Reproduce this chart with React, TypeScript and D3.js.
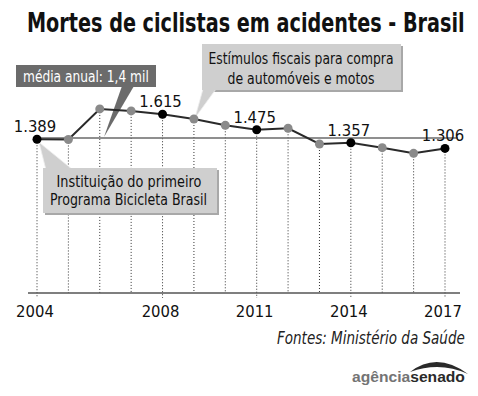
import React, { useLayoutEffect, useRef, useState } from 'react';
import * as d3 from 'd3';

const years = [2004, 2005, 2006, 2007, 2008, 2009, 2010, 2011, 2012, 2013, 2014, 2015, 2016, 2017];
const deaths = [1389, 1387, 1663, 1645, 1615, 1572, 1515, 1475, 1488, 1346, 1357, 1313, 1262, 1306];
const labeledYears = [2004, 2008, 2011, 2014, 2017];
const annualAverage = 1400;

const title = 'Mortes de ciclistas em acidentes - Brasil';
const averageLabel = 'média anual: 1,4 mil';
const noteFiscal = ['Estímulos fiscais para compra', 'de automóveis e motos'];
const noteProgram = ['Instituição do primeiro', 'Programa Bicicleta Brasil'];
const source = 'Fontes: Ministério da Saúde';

const W = 478;
const H = 396;
const NARROW = '"DejaVu Sans Condensed", "DejaVu Sans", sans-serif';

const ptBR = d3.formatLocale({ decimal: ',', thousands: '.', grouping: [3], currency: ['R$', ''] });
const fmt = ptBR.format(',');

// squeezes a text horizontally so it covers `width` px (the original uses a condensed face)
const FitText = ({ x, y, width, anchor = 'start', children, ...rest }: any) => {
  const ref = useRef<SVGTextElement>(null);
  const [k, setK] = useState(1);
  useLayoutEffect(() => {
    const n = ref.current ? ref.current.getComputedTextLength() : 0;
    if (n) setK(width / n);
  }, [width, children]);
  const x0 = anchor === 'middle' ? x - width / 2 : anchor === 'end' ? x - width : x;
  return (
    <text ref={ref} transform={`translate(${x0},${y}) scale(${k},1)`} {...rest}>
      {children}
    </text>
  );
};

const App = () => {
  const x = d3.scaleLinear().domain([2004, 2017]).range([37, 445]);
  const y = d3.scaleLinear().domain([0, 1600]).range([293, 115.9]);

  const data = years.map((yr, i) => ({ year: yr, value: deaths[i] }));
  const line = d3
    .line<{ year: number; value: number }>()
    .x(d => x(d.year))
    .y(d => y(d.value));

  const baseY = y(0);
  const avgY = y(annualAverage);
  const pt = (yr: number) => data.find(d => d.year === yr)!;

  return (
    <svg width={W} height={H} style={{ position: 'absolute', left: 0, top: 0, background: '#fff' }}>
      <FitText x={27} y={32} width={438} fontFamily={NARROW} fontWeight="bold" fontSize={27} fill="#111">
        {title}
      </FitText>

      {/* dotted drop lines */}
      {data.map(d => (
        <line key={'v' + d.year} x1={x(d.year)} x2={x(d.year)} y1={y(d.value)}
          y2={labeledYears.includes(d.year) ? baseY + 5 : baseY}
          stroke="#333" strokeWidth={1} strokeDasharray="1,2" />
      ))}

      {/* base axis */}
      <line x1={28} x2={460} y1={baseY} y2={baseY} stroke="#555" strokeWidth={1.5} />
      {labeledYears.map(yr => (
        <text key={'t' + yr} x={x(yr) - 2} y={317} textAnchor="middle" fontFamily={NARROW}
          fontSize={16.5} fill="#111">{yr}</text>
      ))}

      {/* average */}
      <line x1={x(2004)} x2={458} y1={avgY} y2={avgY} stroke="#6a6a6a" strokeWidth={1.5} />

      {/* average label */}
      <path d={`M122,86 L134,86 L${x(2004) + 67},${avgY - 1} Z`} fill="#6b6b6b" />
      <rect x={16} y={65} width={140} height={22} fill="#6b6b6b" />
      <FitText x={86} y={81.5} width={126} anchor="middle" fontFamily={NARROW} fontSize={16} fill="#fff">
        {averageLabel}
      </FitText>

      {/* fiscal note */}
      <rect x={204} y={46} width={199} height={46} fill="#a8a8a8" />
      <path d={`M203,89 L216,89 L${x(2009) + 1},${y(pt(2009).value) - 1} Z`} fill="#cfcfcf" stroke="#eee" strokeWidth={0.8} />
      <rect x={202} y={44} width={199} height={46} fill="#cfcfcf" />
      <FitText x={301} y={63.5} width={185} anchor="middle" fontFamily={NARROW} fontSize={16} fill="#111">
        {noteFiscal[0]}
      </FitText>
      <FitText x={301} y={83.5} width={147} anchor="middle" fontFamily={NARROW} fontSize={16} fill="#111">
        {noteFiscal[1]}
      </FitText>

      {/* line and points */}
      <path d={line(data) || ''} fill="none" stroke="#2a2a2a" strokeWidth={2} />

      {/* program note */}
      <path d={`M${x(2004) + 2},${y(pt(2004).value) + 3} L73,170 L46,170 Z`} fill="#cfcfcf" stroke="#eee" strokeWidth={0.8} />
      <rect x={45} y={170} width={174} height={45} fill="#a8a8a8" />
      <rect x={43} y={168} width={174} height={45} fill="#cfcfcf" />
      <FitText x={129} y={187} width={145} anchor="middle" fontFamily={NARROW} fontSize={16} fill="#111">
        {noteProgram[0]}
      </FitText>
      <FitText x={128.5} y={204.5} width={157} anchor="middle" fontFamily={NARROW} fontSize={16} fill="#111">
        {noteProgram[1]}
      </FitText>

      {data.map(d => (
        <circle key={'c' + d.year} cx={x(d.year)} cy={y(d.value)} r={4.5}
          fill={labeledYears.includes(d.year) ? '#000' : '#8a8a8a'} />
      ))}
      {labeledYears.map(yr => (
        <text key={'l' + yr} x={x(yr) - 2} y={y(pt(yr).value) - 7} textAnchor="middle"
          fontFamily={NARROW} fontSize={16.5} fill="#111">{fmt(pt(yr).value)}</text>
      ))}

      {/* source */}
      <FitText x={465} y={344} width={188} anchor="end" fontFamily={NARROW} fontStyle="italic" fontSize={17.5} fill="#222">
        {source}
      </FitText>

      {/* logo */}
      <path d="M410,372 Q437,351 468,374 Q440,361 410,372 Z" fill="#2a2a2a" />
      <FitText x={465} y={382} width={113} anchor="end" fontFamily='"Liberation Sans", Arial, sans-serif'
        fontWeight="bold" fontSize={15}>
        <tspan fill="#747474">agência</tspan>
        <tspan fill="#2a2a2a">senado</tspan>
      </FitText>
    </svg>
  );
};

export default App;
